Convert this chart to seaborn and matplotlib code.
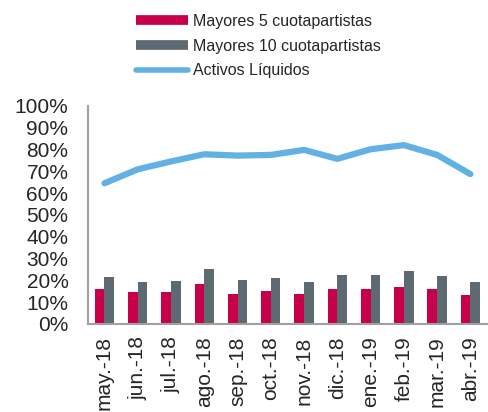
import matplotlib
matplotlib.use("Agg")
import matplotlib.pyplot as plt
import seaborn as sns
import pandas as pd
import numpy as np
from matplotlib.lines import Line2D

meses = ["may.-18", "jun.-18", "jul.-18", "ago.-18", "sep.-18", "oct.-18",
         "nov.-18", "dic.-18", "ene.-19", "feb.-19", "mar.-19", "abr.-19"]
mayores5 = [15.9, 14.7, 14.4, 18.3, 13.9, 15.1, 13.8, 16.2, 16.1, 16.8, 16.2, 13.2]
mayores10 = [21.7, 19.4, 19.7, 25.1, 20.2, 20.9, 19.1, 22.3, 22.2, 24.2, 21.9, 19.0]
activos = [64.5, 70.9, 74.5, 77.8, 77.2, 77.5, 79.8, 75.7, 80.1, 82.0, 77.5, 68.7]
series_names = ["Mayores 5 cuotapartistas", "Mayores 10 cuotapartistas", "Activos Líquidos"]

c_red = "#C8004A"
c_grey = "#5E6A71"
c_blue = "#62B1E4"

sns.set_theme(style="white")
plt.rcParams['font.family'] = ['Liberation Sans', 'DejaVu Sans']

df = pd.DataFrame({
    "mes": meses * 2,
    "valor": mayores5 + mayores10,
    "serie": [series_names[0]] * len(meses) + [series_names[1]] * len(meses),
})

fig = plt.figure(figsize=(4.88, 4.12), dpi=100)
ax = fig.add_axes([0.18, 0.214, 0.818, 0.529])

sns.barplot(data=df, x="mes", y="valor", hue="serie", order=meses,
            hue_order=series_names[:2], palette=[c_red, c_grey],
            width=0.58, gap=0, linewidth=0, ax=ax, legend=False, saturation=1)
sns.lineplot(x=np.arange(len(meses)), y=activos, color=c_blue, linewidth=4.5,
             ax=ax, solid_capstyle="round", solid_joinstyle="round")

ax.set_xlim(-0.5, len(meses) - 0.5)
ax.set_ylim(0, 100)
ax.set_yticks(np.arange(0, 101, 10))
ax.set_yticklabels([f"{v}%" for v in range(0, 101, 10)], fontsize=15)
ax.set_xticks(np.arange(len(meses)))
ax.set_xticklabels(meses, rotation=90, fontsize=15)
ax.tick_params(axis="y", length=0, pad=14)
ax.tick_params(axis="x", length=0, pad=9)
ax.set_xlabel("")
ax.set_ylabel("")
for s in ["top", "right"]:
    ax.spines[s].set_visible(False)
for s in ["left", "bottom"]:
    ax.spines[s].set_color("#A0A0A0")
    ax.spines[s].set_linewidth(1.5)

handles = [
    Line2D([0], [0], color=c_red, linewidth=7, solid_capstyle="butt"),
    Line2D([0], [0], color=c_grey, linewidth=7, solid_capstyle="butt"),
    Line2D([0], [0], color=c_blue, linewidth=4, solid_capstyle="round"),
]
fig.legend(handles, series_names, loc="upper left", bbox_to_anchor=(0.255, 0.995),
           frameon=False, fontsize=11.5, handlelength=3.2, handletextpad=0.35,
           labelspacing=0.6, borderpad=0.25)

fig.savefig("out.png", dpi=100)
